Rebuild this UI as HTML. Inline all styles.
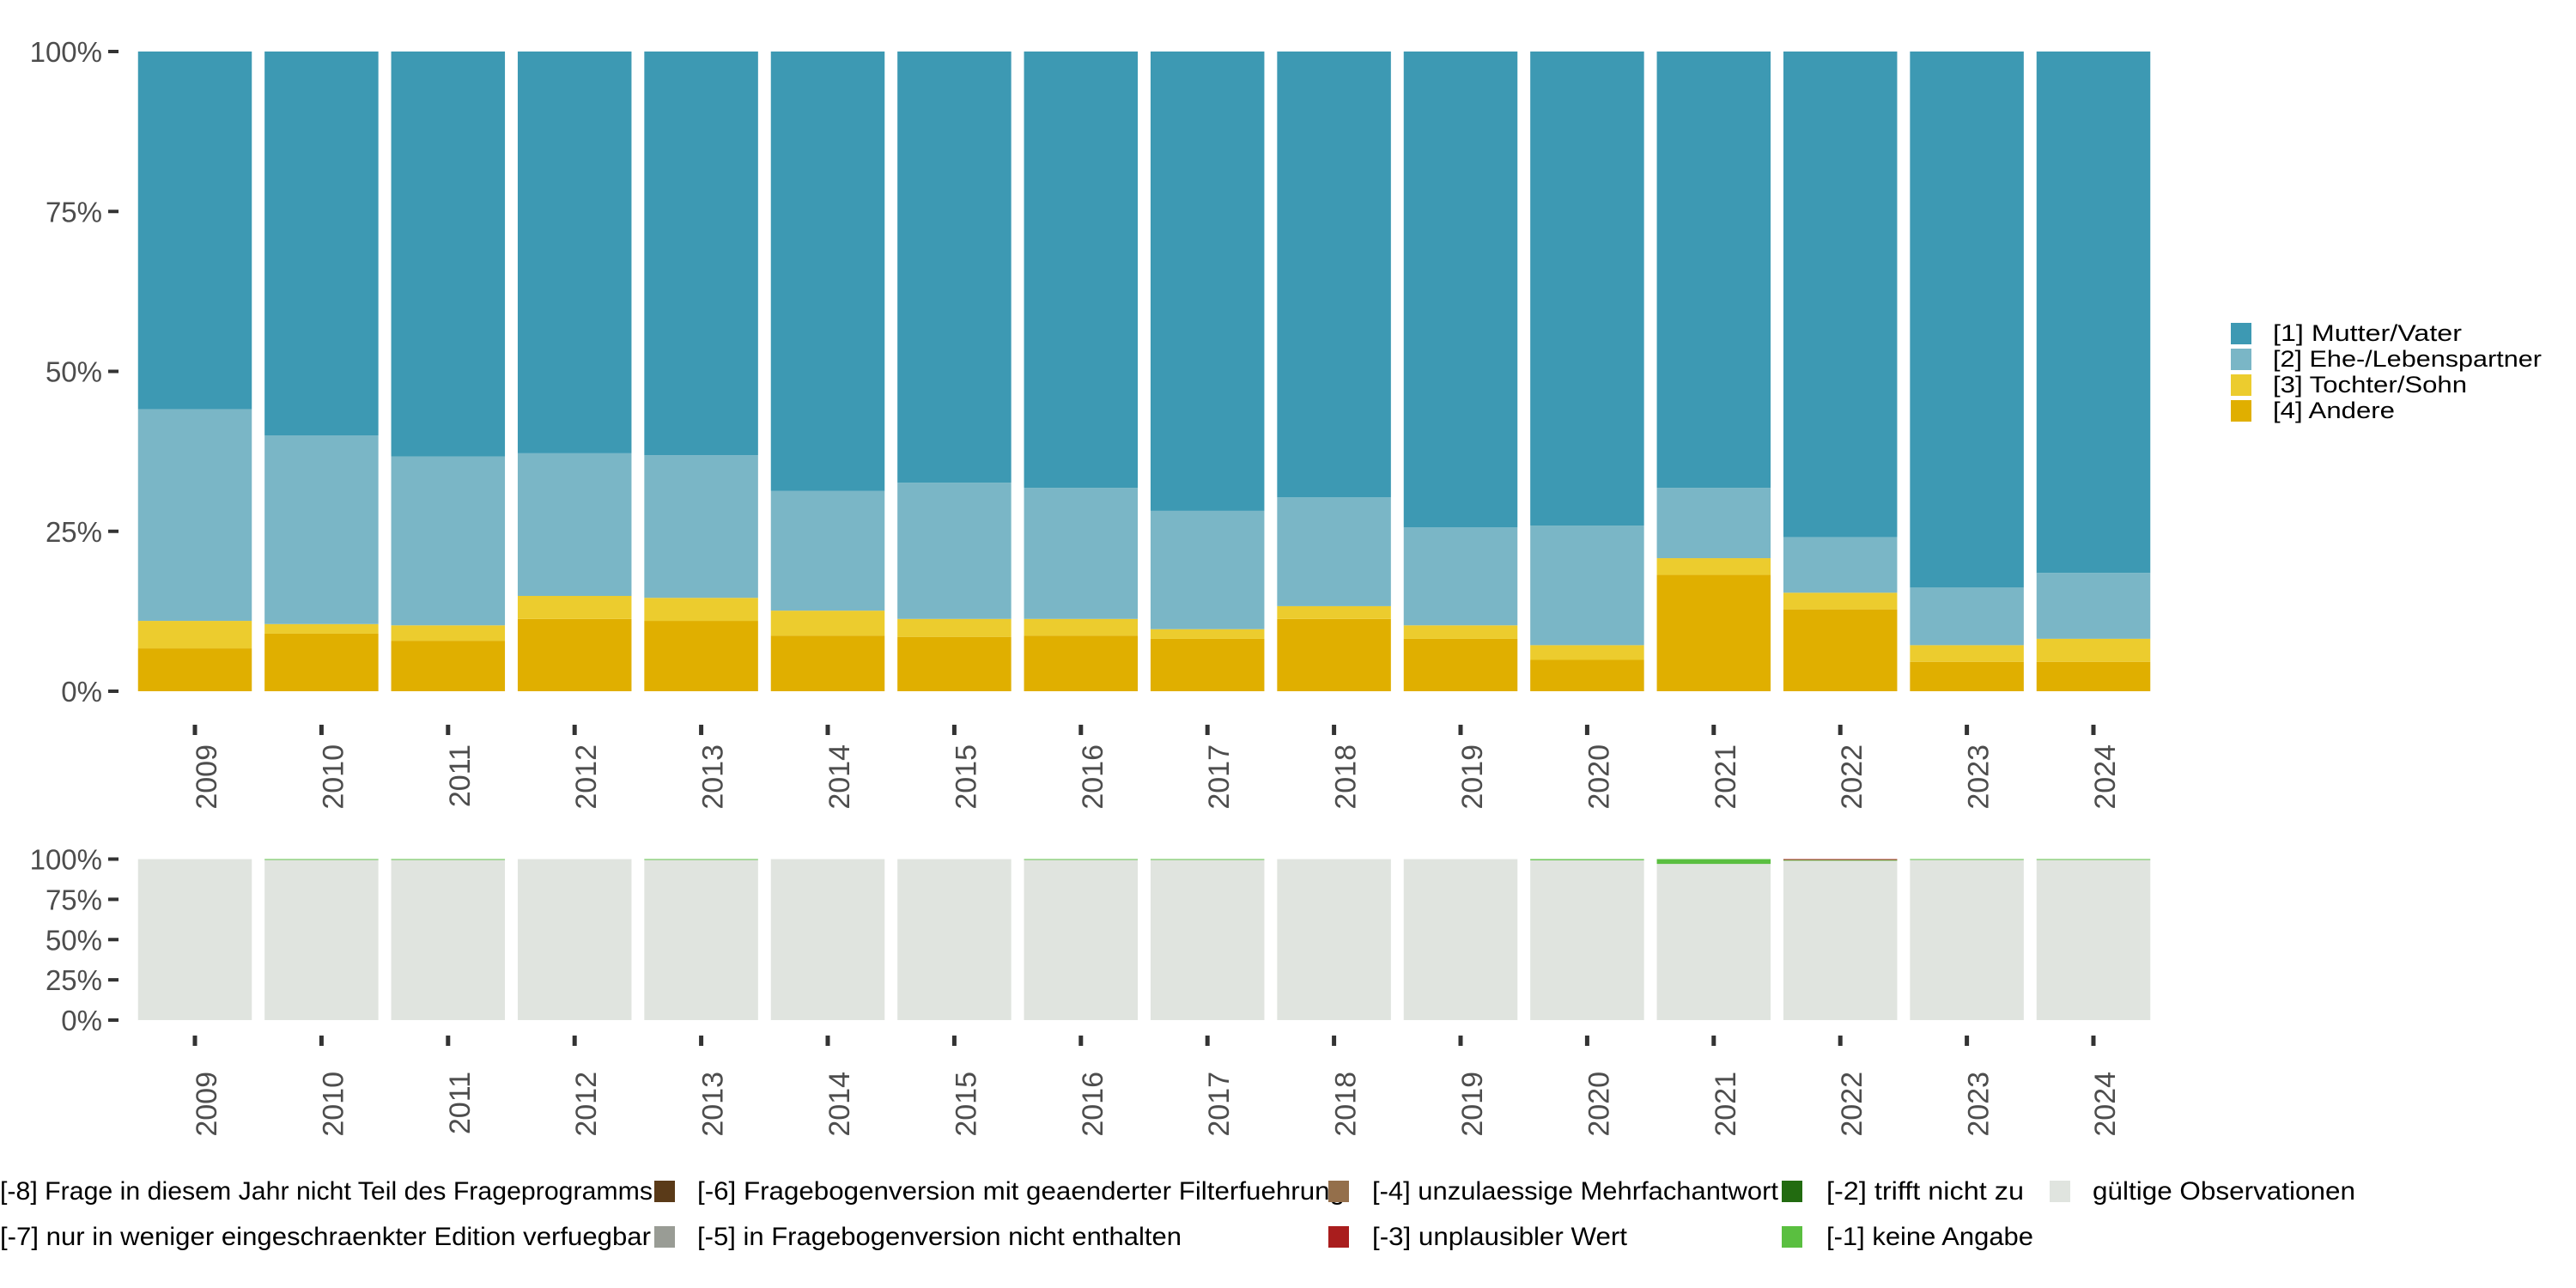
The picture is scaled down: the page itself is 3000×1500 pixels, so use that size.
<!DOCTYPE html>
<html><head><meta charset="utf-8"><style>
html,body{margin:0;padding:0;background:#fff;}
svg{display:block;font-family:"Liberation Sans","DejaVu Sans",sans-serif;}
</style></head><body>
<svg id="chart" width="3000" height="1500" viewBox="0 0 3000 1500" xmlns="http://www.w3.org/2000/svg"></svg>
<script>
const years = ["2009","2010","2011","2012","2013","2014","2015","2016","2017","2018","2019","2020","2021","2022","2023","2024"];
const andere  = [6.7, 9.0, 7.9, 11.3, 11.0, 8.7, 8.5, 8.7, 8.2, 11.3, 8.2, 4.9, 18.2, 12.8, 4.6, 4.6];
const tochter = [4.3, 1.5, 2.4, 3.6, 3.6, 3.9, 2.8, 2.6, 1.5, 2.0, 2.1, 2.3, 2.6, 2.6, 2.6, 3.6];
const ehe     = [33.1, 29.5, 26.4, 22.3, 22.3, 18.7, 21.3, 20.5, 18.5, 17.0, 15.3, 18.7, 11.0, 8.7, 9.0, 10.3];
const mutter  = [55.9, 60.0, 63.3, 62.8, 63.1, 68.7, 67.4, 68.2, 71.8, 69.7, 74.4, 74.1, 68.2, 75.9, 83.8, 81.5];
const keineAngabe = [0, 0.5, 0.5, 0, 0.5, 0, 0, 0.5, 0.5, 0, 0, 0.7, 3.0, 0.5, 0.5, 0.5];
const unplausibel = [0, 0, 0, 0, 0, 0, 0, 0, 0, 0, 0, 0, 0, 0.5, 0, 0];
const yTicks = [0, 25, 50, 75, 100];
const yTickLabels = ["0%", "25%", "50%", "75%", "100%"];

const NS = "http://www.w3.org/2000/svg";
const svg = document.getElementById("chart");
function mk(tag, attrs, parent) {
  const e = document.createElementNS(NS, tag);
  for (const k in attrs) e.setAttribute(k, attrs[k]);
  (parent || svg).appendChild(e);
  return e;
}
const pitch = 147.4, x0 = 227, barW = 132.5;
const xC = i => x0 + i * pitch;
const yTop = v => 805 - v / 100 * 745;
const yBot = v => 1188 - v / 100 * 187.5;

function panel(yf, tickY, labY, name, series) {
  const g = mk("g", {});
  
  
  yTicks.forEach((t, k) => {
    const y = yf(t);
    const tk = mk("line", {x1: 126, x2: 138, y1: y, y2: y, stroke: "#333", "stroke-width": 4}, g);
    
    
    const tx = mk("text", {x: 119, y: y + 12, "text-anchor": "end", "font-size": 33, fill: "#4d4d4d"}, g);
    
    
    tx.textContent = yTickLabels[k];
  });
  years.forEach((yr, i) => {
    const cx = xC(i);
    let cum = 0;
    series.forEach(s => {
      const v = s.vals[i];
      if (v <= 0) return;
      const r = mk("rect", {x: cx - barW / 2, y: yf(cum + v), width: barW, height: yf(cum) - yf(cum + v), fill: s.color}, g);
      
      
      cum += v;
    });
    const tk = mk("line", {x1: cx, x2: cx, y1: tickY, y2: tickY + 12, stroke: "#333", "stroke-width": 5}, g);
    
    
    const tx = mk("text", {x: 0, y: 0, "text-anchor": "end", "font-size": 34, fill: "#4d4d4d",
      transform: "translate(" + (cx + 25) + "," + labY + ") rotate(-90)"}, g);
    
    
    tx.textContent = yr;
  });
}

panel(yTop, 844, 867, "main-panel", [
  {key: "andere", vals: andere, color: "#e0af00"},
  {key: "tochter", vals: tochter, color: "#eccc2e"},
  {key: "ehe", vals: ehe, color: "#7ab6c6"},
  {key: "mutter", vals: mutter, color: "#3d99b3"}
]);
const valid = years.map((y, i) => 100 - keineAngabe[i] - unplausibel[i]);
panel(yBot, 1206, 1248, "missing-panel", [
  {key: "gueltig", vals: valid, color: "#e0e4df"},
  {key: "keine-angabe", vals: keineAngabe, color: "#5abf40"},
  {key: "unplausibel", vals: unplausibel, color: "#a91d1d"}
]);

// right legend
const legR = [["[1] Mutter/Vater", "#3d99b3", 220], ["[2] Ehe-/Lebenspartner", "#7ab6c6", 313], ["[3] Tochter/Sohn", "#eccc2e", 226], ["[4] Andere", "#e0af00", 142]];
legR.forEach((l, k) => {
  const y = 376 + k * 30;
  const r = mk("rect", {x: 2598, y: y, width: 24, height: 25, fill: l[1]});
  
  
  const t = mk("text", {x: 2647, y: y + 21, "font-size": 27, fill: "#000", textLength: l[2], lengthAdjust: "spacingAndGlyphs"});
  
  
  t.textContent = l[0];
});

// bottom legend
const legB = [
  ["[-8] Frage in diesem Jahr nicht Teil des Frageprogramms", "#ffffff", -60, 0, 0, 760],
  ["[-7] nur in weniger eingeschraenkter Edition verfuegbar", "#ffffff", -60, 0, 1, 758],
  ["[-6] Fragebogenversion mit geaenderter Filterfuehrung", "#5a3a18", 762, 812, 0, 754],
  ["[-5] in Fragebogenversion nicht enthalten", "#999c95", 762, 812, 1, 564],
  ["[-4] unzulaessige Mehrfachantwort", "#946f4b", 1547, 1598, 0, 473],
  ["[-3] unplausibler Wert", "#a91d1d", 1547, 1598, 1, 297],
  ["[-2] trifft nicht zu", "#226b10", 2075, 2127, 0, 230],
  ["[-1] keine Angabe", "#5abf40", 2075, 2127, 1, 241],
  ["gültige Observationen", "#e0e4df", 2387, 2437, 0, 306]
];
legB.forEach(l => {
  const y = 1375 + l[4] * 53;
  if (l[2] > 0) {
    const r = mk("rect", {x: l[2], y: y, width: 24, height: 25, fill: l[1]});
    
    
  }
  const t = mk("text", {x: l[3], y: y + 22, "font-size": 30, fill: "#000", textLength: l[5], lengthAdjust: "spacingAndGlyphs"});
  
  
  t.textContent = l[0];
});
</script>
</body></html>
